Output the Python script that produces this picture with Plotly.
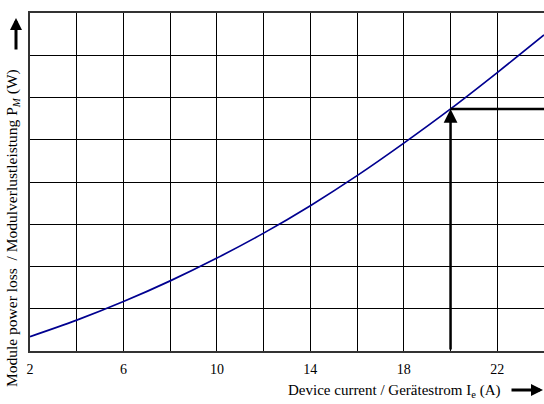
import plotly.graph_objects as go

# Data
device_current = [2, 4, 6, 8, 10, 12, 14, 16, 18, 20, 22, 24]          # A
module_loss = [0.34, 0.73, 1.17, 1.66, 2.20, 2.79, 3.44, 4.15, 4.92, 5.73, 6.59, 7.48]  # grid units (W, unlabeled)
x_tick_vals = [2, 4, 6, 8, 10, 12, 14, 16, 18, 20, 22, 24]
x_tick_text = ["2", "", "6", "", "10", "", "14", "", "18", "", "22", ""]
marker_current = 20
marker_loss = 5.73

FONT = "Liberation Serif, Times New Roman, serif"

fig = go.Figure()
fig.add_trace(go.Scatter(x=device_current, y=module_loss, mode="lines",
                         line=dict(color="#000090", width=1.7, shape="spline"),
                         hoverinfo="skip", showlegend=False))
fig.add_trace(go.Scatter(x=[marker_current, 24], y=[marker_loss, marker_loss], mode="lines",
                         line=dict(color="black", width=2.5), showlegend=False, hoverinfo="skip"))

fig.add_annotation(x=marker_current, y=marker_loss, xref="x", yref="y",
                   ax=marker_current, ay=0, axref="x", ayref="y",
                   text="", showarrow=True, arrowhead=2, arrowsize=1.1, arrowwidth=2.5,
                   arrowcolor="black")

# x title with arrow
fig.add_annotation(x=(394 - 30) / 514, y=(351 - 391) / 338, xref="paper", yref="paper",
                   text="Device current / Gerätestrom I<sub>e</sub> (A)", showarrow=False,
                   font=dict(family=FONT, size=15, color="black"), xanchor="center", yanchor="middle")
fig.add_annotation(x=1.0, y=(351 - 390) / 338, xref="paper", yref="paper",
                   ax=-34, ay=0, text="", showarrow=True, arrowhead=2, arrowsize=0.8, arrowwidth=3,
                   arrowcolor="black")

# y title with arrow
fig.add_annotation(x=(12 - 30) / 514, y=(351 - 228) / 338, xref="paper", yref="paper",
                   text="Module power loss  / Modulverlustleistung P<sub><i>M</i></sub> (W)",
                   textangle=-90, showarrow=False,
                   font=dict(family=FONT, size=15.5, color="black"), xanchor="center", yanchor="middle")
fig.add_annotation(x=(16 - 30) / 514, y=(351 - 18) / 338, xref="paper", yref="paper",
                   ax=0, ay=33, text="", showarrow=True, arrowhead=2, arrowsize=0.8, arrowwidth=3,
                   arrowcolor="black")

fig.update_layout(
    width=544, height=404, autosize=False,
    margin=dict(l=30, r=0, t=13, b=53, autoexpand=False),
    paper_bgcolor="white", plot_bgcolor="white",
    font=dict(family=FONT, size=13, color="black"),
    xaxis=dict(range=[2, 24], tickvals=x_tick_vals, ticktext=x_tick_text,
               tickfont=dict(family=FONT, size=14), ticklabelstandoff=4,
               showgrid=True, gridcolor="black", gridwidth=1,
               showline=True, linecolor="#333", linewidth=2, mirror=True,
               ticks="", zeroline=False, fixedrange=True, automargin=False),
    yaxis=dict(range=[0, 8], dtick=1, showticklabels=False,
               showgrid=True, gridcolor="black", gridwidth=1,
               showline=True, linecolor="#333", linewidth=2, mirror=True,
               ticks="", zeroline=False, fixedrange=True, automargin=False),
)

fig.write_html("out.html", default_width="544px", default_height="404px",
               config={"responsive": False, "displayModeBar": False},
               post_script="document.body.style.margin='0';document.body.style.overflow='hidden';")
